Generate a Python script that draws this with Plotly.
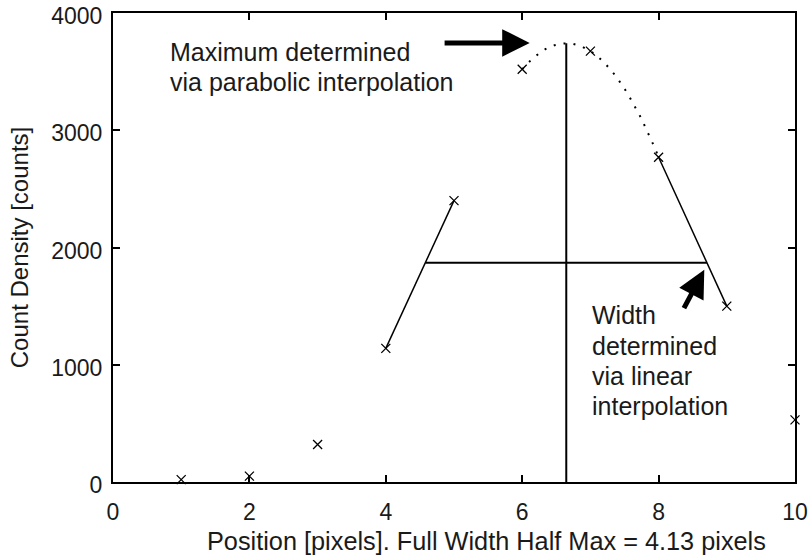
import numpy as np
import plotly.graph_objects as go

# Data
positions = [1, 2, 3, 4, 5, 6, 7, 8, 9, 10]
counts = [20, 50, 320, 1140, 2400, 3520, 3675, 2770, 1500, 530]

x_ticks = [0, 2, 4, 6, 8, 10]
y_ticks = [0, 1000, 2000, 3000, 4000]

xs = np.array(positions, dtype=float)
ys = np.array(counts, dtype=float)

# Parabolic interpolation around the maximum sample
imax = int(np.argmax(ys))
px = xs[imax - 1:imax + 2]
py = ys[imax - 1:imax + 2]
a, b, c = np.polyfit(px, py, 2)
x_peak = -b / (2 * a)
y_peak = c - b * b / (4 * a)
half = y_peak / 2.0
xp = np.linspace(px[0], px[-1], 60)
yp = a * xp ** 2 + b * xp + c

# Linear interpolation of half-max crossings
il = max(i for i in range(imax) if ys[i] < half)
ir = min(i for i in range(imax, len(ys)) if ys[i] < half)
x_left = xs[il] + (half - ys[il]) / (ys[il + 1] - ys[il])
x_right = xs[ir - 1] + (half - ys[ir - 1]) / (ys[ir] - ys[ir - 1])
fwhm = x_right - x_left

FONT = "Liberation Sans, Arial, Helvetica, sans-serif"
TXT = "#1a1a1a"
fig = go.Figure()

fig.add_trace(go.Scatter(x=xs, y=ys, mode="markers",
                         marker=dict(symbol="x-thin", size=9, line=dict(color="black", width=1.3)),
                         showlegend=False, cliponaxis=False))
fig.add_trace(go.Scatter(x=xp, y=yp, mode="lines",
                         line=dict(color="black", width=2, dash="2px,8px"), showlegend=False))
fig.add_trace(go.Scatter(x=[xs[il], xs[il + 1]], y=[ys[il], ys[il + 1]], mode="lines",
                         line=dict(color="black", width=1.5), showlegend=False))
fig.add_trace(go.Scatter(x=[xs[ir - 1], xs[ir]], y=[ys[ir - 1], ys[ir]], mode="lines",
                         line=dict(color="black", width=1.5), showlegend=False))
fig.add_trace(go.Scatter(x=[x_left, x_right], y=[half, half], mode="lines",
                         line=dict(color="black", width=2), showlegend=False))
fig.add_trace(go.Scatter(x=[x_peak, x_peak], y=[0, y_peak], mode="lines",
                         line=dict(color="black", width=2), showlegend=False))

# Text annotations (one per line for exact spacing)
max_lines = ["Maximum determined", "via parabolic interpolation"]
max_line_y = [3665, 3410]
for t, yy in zip(max_lines, max_line_y):
    fig.add_annotation(x=0.80, y=yy, xref="x", yref="y", xanchor="left", yanchor="middle",
                       text=t, showarrow=False, font=dict(family=FONT, size=25, color=TXT))
width_lines = ["Width", "determined", "via linear", "interpolation"]
width_line_y = [1425, 1160, 905, 650]
for t, yy in zip(width_lines, width_line_y):
    fig.add_annotation(x=7.0, y=yy, xref="x", yref="y", xanchor="left", yanchor="middle",
                       text=t, showarrow=False, font=dict(family=FONT, size=25, color=TXT))

# Arrows
fig.add_annotation(x=6.11, y=3745, ax=4.84, ay=3745, xref="x", yref="y", axref="x", ayref="y",
                   text="", showarrow=True, arrowhead=2, arrowsize=1.1, arrowwidth=5,
                   arrowcolor="black", standoff=0)
fig.add_annotation(x=8.67, y=1810, ax=8.36, ay=1470, xref="x", yref="y", axref="x", ayref="y",
                   text="", showarrow=True, arrowhead=2, arrowsize=1.1, arrowwidth=5,
                   arrowcolor="black", standoff=0)

# X-axis title (sits right of the axis centre in the reference)
fig.add_annotation(x=0.548, y=0, xref="paper", yref="paper", xanchor="center", yanchor="middle",
                   yshift=-59, showarrow=False,
                   text="Position [pixels]. Full Width Half Max = %.2f pixels" % fwhm,
                   font=dict(family=FONT, size=25.3, color=TXT))

fig.update_layout(
    width=808, height=557,
    margin=dict(l=113, r=13, t=13, b=75, autoexpand=False),
    paper_bgcolor="white", plot_bgcolor="white",
    font=dict(family=FONT, size=23, color=TXT),
    showlegend=False,
)
fig.update_xaxes(range=[0, 10], tickvals=x_ticks, ticktext=[str(v) for v in x_ticks],
                 ticks="inside", ticklen=7, tickwidth=1.5, tickcolor="black",
                 showline=True, linecolor="black", linewidth=2, mirror="ticks",
                 showgrid=False, zeroline=False, automargin=False,
                 tickfont=dict(size=23), ticklabelstandoff=8, ticklabeloverflow="allow")
fig.update_yaxes(range=[0, 4000], tickvals=y_ticks, ticktext=[str(v) for v in y_ticks],
                 ticks="inside", ticklen=7, tickwidth=1.5, tickcolor="black",
                 showline=True, linecolor="black", linewidth=2, mirror="ticks",
                 showgrid=False, zeroline=False, automargin=False,
                 tickfont=dict(size=23), ticklabelstandoff=4, ticklabelshift=3,
                 ticklabeloverflow="allow",
                 title=dict(text="Count Density [counts]", font=dict(size=24), standoff=16))

# Remove the default 8px page margin so the 808x557 figure fills the window exactly
fig.write_html("out.html", config={"displayModeBar": False},
               post_script="document.body.style.margin='0';")
